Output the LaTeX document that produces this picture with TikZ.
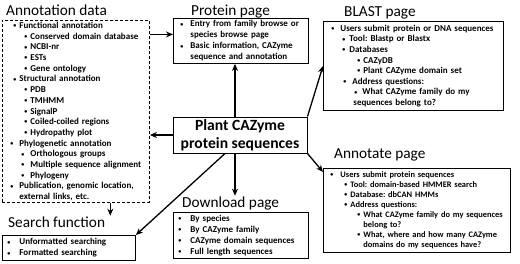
\documentclass[tikz,border=0pt]{standalone}
\usepackage{fontspec}
\setmainfont{Carlito}
\frenchspacing
\usetikzlibrary{arrows.meta,calc}

\newcommand\li[2]{\hspace*{#1}\makebox[#2][l]{\raisebox{0.8pt}{\fontsize{6}{6}\selectfont\textbullet}}}

\begin{document}
\begin{tikzpicture}[
  x=1pt, y=-1pt,
  >={Stealth[length=7pt,width=6pt]},
  ttl/.style={anchor=base west,inner sep=1pt,font=\fontsize{15.3}{18}\selectfont},
  page/.style={rectangle,draw=black,line width=0.9pt,anchor=north west,align=left,
               inner xsep=0pt,inner ysep=1pt,font=\fontsize{9}{11}\selectfont\bfseries},
  dpage/.style={page,dash pattern=on 3pt off 2pt},
  core/.style={rectangle,draw=black,line width=1pt,align=center,inner sep=0pt,
               font=\fontsize{15.6}{18}\selectfont\bfseries},
  arr/.style={->,line width=1.3pt,black}
]
\useasboundingbox (0,0) rectangle (520,263);

%% ================= centre =================
\node[core,minimum width=134pt,minimum height=36pt] (plant) at (240,135)
  {Plant CAZyme\\protein sequences};

%% ================= annotation data =================
\node[ttl] (annoT) at (5,15) {Annotation data};
\node[dpage,text width=147pt,minimum height=182pt,
      font=\fontsize{9}{10.7}\selectfont\bfseries] (anno) at (2,20) {%
\li{11pt}{6pt}Functional annotation\\
\li{22pt}{6pt}Conserved domain database\\
\li{22pt}{6pt}NCBI-nr\\
\li{22pt}{6pt}ESTs\\
\li{22pt}{6pt}Gene ontology\\
\li{11pt}{6pt}Structural annotation\\
\li{22pt}{6pt}PDB\\
\li{22pt}{6pt}TMHMM\\
\li{22pt}{6pt}SignalP\\
\li{22pt}{6pt}Coiled-coiled regions\\
\li{22pt}{6pt}Hydropathy plot\\
\li{8pt}{9pt}Phylogenetic annotation\\
\li{19pt}{9pt}Orthologous groups\\
\li{19pt}{9pt}Multiple sequence alignment\\
\li{19pt}{9pt}Phylogeny\\
\li{8pt}{9pt}Publication, genomic location,\\
\hspace*{17pt}external links, etc.};

%% ================= protein page =================
\node[ttl] (protT) at (190,15) {Protein page};
\node[page,text width=135pt,minimum height=45pt] (prot) at (173,18) {%
\li{7pt}{10pt}Entry from family browse or\\
\hspace*{17pt}species browse page\\
\li{7pt}{10pt}Basic information, CAZyme\\
\hspace*{17pt}sequence and annotation};

%% ================= BLAST page =================
\node[ttl] (blastT) at (343,16) {BLAST page};
\node[page,text width=180pt,minimum height=89pt,
      font=\fontsize{9}{10.6}\selectfont\bfseries] (blast) at (323,21) {%
\li{8pt}{9pt}Users submit protein or DNA sequences\\
\li{19pt}{7pt}Tool: Blastp or Blastx\\
\li{19pt}{7pt}Databases\\
\li{34pt}{6pt}CAZyDB\\
\li{34pt}{6pt}Plant CAZyme domain set\\
\li{20pt}{9pt}Address questions:\\
\li{31pt}{8pt}What CAZyme family do my\\
\hspace*{30pt}sequences belong to?};

%% ================= annotate page =================
\node[ttl] (annotT) at (333,158.5) {Annotate page};
\node[page,text width=187pt,minimum height=84pt,
      font=\fontsize{8.4}{10}\selectfont\bfseries] (annot) at (323,168) {%
\li{7pt}{10pt}Users submit protein sequences\\
\li{21pt}{6pt}Tool: domain-based HMMER search\\
\li{21pt}{6pt}Database: dbCAN HMMs\\
\li{21pt}{6pt}Address questions:\\
\mbox{\li{34pt}{6pt}What CAZyme family do my sequences}\\
\hspace*{40pt}belong to?\\
\li{34pt}{6pt}What, where and how many CAZyme\\
\hspace*{40pt}domains do my sequences have?};

%% ================= download page =================
\node[ttl] (dlT) at (181,207.5) {Download page};
\node[page,text width=135pt,minimum height=46pt] (dl) at (173,212) {%
\li{5pt}{12pt}By species\\
\li{5pt}{12pt}By CAZyme family\\
\li{5pt}{12pt}CAZyme domain sequences\\
\li{5pt}{12pt}Full length sequences};

%% ================= search function =================
\node[ttl] (srT) at (7,227.5) {Search function};
\node[page,text width=133pt,minimum height=25pt] (srch) at (2,235) {%
\li{5pt}{12pt}Unformatted searching\\
\li{5pt}{12pt}Formatted searching};

%% ================= arrows =================
\coordinate (pin) at ([yshift=6.5pt]prot.west);
\coordinate (pup) at ([xshift=-5pt]plant.north);
\coordinate (pdn) at ([xshift=-5pt]plant.south);
\coordinate (sdn) at ([xshift=4pt]srT.north east);
\draw[arr] (pin -| anno.east) -- (pin);
\draw[arr] (plant.west) -- (plant.west -| anno.east);
\draw[arr] (pup) -- (pup |- prot.south);
\draw[arr] (pdn) -- (pdn |- dlT.north);
\draw[arr] (plant.north east) -- (blast.west);
\draw[arr] (plant.south east) -- ([yshift=-4pt]annot.north west);
\draw[arr] ([xshift=-15pt]plant.south) -- (srch.north east);
\draw[arr] (sdn |- anno.south) -- (sdn);

\end{tikzpicture}
\end{document}
